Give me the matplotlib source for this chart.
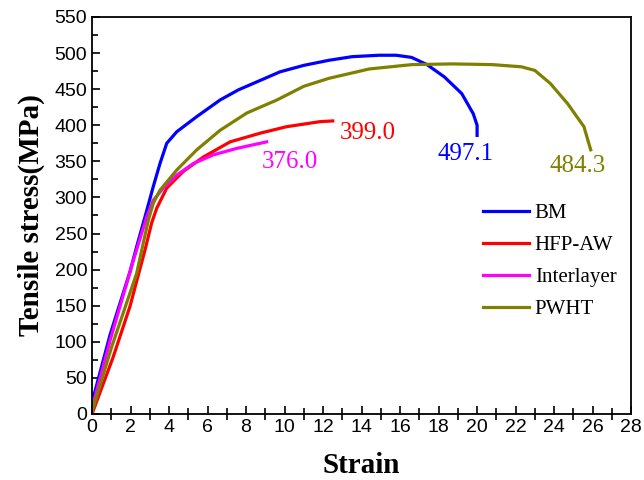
import matplotlib
matplotlib.use("Agg")
import matplotlib.pyplot as plt
from matplotlib.ticker import MultipleLocator

# curves (strain %, stress MPa)
bm_x = [0.0, 0.94, 1.97, 2.32, 2.75, 3.18, 3.53, 3.88, 4.4, 5.44, 6.65, 7.6, 9.76, 11.0, 12.3, 13.5, 14.9, 15.8, 16.6, 17.4, 18.3, 19.2, 19.8, 20.0, 20.0]
bm_y = [16, 110, 197, 232, 273, 315, 347, 375, 391, 412, 435, 449, 474, 483, 490, 495, 497, 497, 494, 484, 467, 444, 416, 400, 386]

hfp_x = [0.0, 1.1, 1.97, 2.75, 3.1, 3.36, 3.88, 4.74, 5.78, 7.17, 8.73, 10.1, 11.84, 12.5]
hfp_y = [0, 79, 149, 227, 265, 285, 313, 336, 356, 377, 389, 398, 405, 406]

inter_x = [0.0, 0.94, 2.15, 2.84, 3.18, 3.7, 4.4, 5.26, 6.3, 7.52, 9.07]
inter_y = [8, 102, 213, 273, 296, 313, 331, 347, 359, 368, 377]

pwht_x = [0.0, 1.02, 2.32, 2.58, 2.93, 3.18, 3.53, 4.4, 5.44, 6.65, 8.04, 9.6, 11.0, 12.3, 14.4, 16.6, 18.7, 20.8, 22.3, 23.0, 23.8, 24.7, 25.55, 25.9]
pwht_y = [3, 93, 195, 227, 269, 292, 310, 338, 366, 393, 417, 435, 454, 465, 478, 484, 485, 484, 481, 476, 458, 430, 398, 366]

names = ["BM", "HFP-AW", "Interlayer", "PWHT"]
colors = ["#0000ff", "#ff0000", "#ff00ff", "#808000"]
peak_text = ["497.1", "399.0", "376.0", "484.3"]
text_x = [19.4, 14.3, 10.3, 25.2]
text_y = [360, 389, 349, 343]

fig = plt.figure(figsize=(6.44, 4.8), dpi=100)
ax = fig.add_axes([0.1429, 0.1375, 0.8371, 0.8271])

curves = [(bm_x, bm_y), (hfp_x, hfp_y), (inter_x, inter_y), (pwht_x, pwht_y)]
for (xs, ys), name, c in zip(curves, names, colors):
    ax.plot(xs, ys, color=c, lw=2.3, label=name, solid_joinstyle="round")

for t, tx, ty, c in zip(peak_text, text_x, text_y, colors):
    ax.text(tx, ty, t, color=c, fontsize=18, family="Liberation Serif",
            ha="center", va="center")

ax.set_xlim(0, 28)
ax.set_ylim(0, 550)
ax.xaxis.set_major_locator(MultipleLocator(2))
ax.xaxis.set_minor_locator(MultipleLocator(1))
ax.yaxis.set_major_locator(MultipleLocator(50))
ax.yaxis.set_minor_locator(MultipleLocator(25))
ax.tick_params(which="major", direction="in", length=6, width=1.2,
               labelsize=14, colors="black")
ax.tick_params(axis="x", which="minor", direction="inout", length=8, width=1.2)
ax.tick_params(axis="y", which="minor", direction="in", length=4, width=1.2)
ax.tick_params(top=False, right=False, which="both")
for lab in ax.get_xticklabels() + ax.get_yticklabels():
    lab.set_family("Liberation Sans")
for s in ax.spines.values():
    s.set_linewidth(1.3)

ax.set_xlabel("Strain", fontsize=21, fontweight="bold", family="Liberation Serif")
ax.set_ylabel("Tensile stress(MPa)", fontsize=21, fontweight="bold", family="Liberation Serif")
ax.xaxis.set_label_coords(0.5, -0.095)
ax.yaxis.set_label_coords(-0.088, 0.5)

ax.legend(loc="center left", bbox_to_anchor=(0.69, 0.385), frameon=False,
          prop={"family": "Liberation Serif", "size": 15}, handlelength=2.2,
          handletextpad=0.3, labelspacing=0.6)

fig.savefig("out.png", dpi=100)
